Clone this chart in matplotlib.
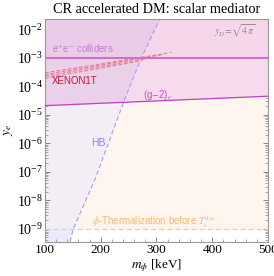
import numpy as np
import matplotlib
matplotlib.use("Agg")
import matplotlib.pyplot as plt
from matplotlib.ticker import MultipleLocator, LogLocator, NullFormatter
from matplotlib.patches import Polygon

plt.rcParams["font.family"] = ["Liberation Serif", "DejaVu Serif"]
plt.rcParams["mathtext.fontset"] = "stix"

# --- donnees ---
m_min, m_max = 100, 500
y_min, y_max = 3.5e-10, 2.3e-2

# bord HB (ligne pointillee bleue)
hb_m = [145, 151, 190, 243, 273, 306]
hb_y = [3.5e-10, 1e-9, 5.6e-8, 3.5e-5, 1e-3, 2.3e-2]

# (g-2)_e
g2_m = [100, 500]
g2_y = [2.1e-5, 4.5e-5]

# collisionneurs e+e-
ee_y = 1e-3

# thermalisation phi
th_y = 1e-9

# XENON1T (lignes pointillees rouges)
xe_m0 = [100, 100, 100, 100]
xe_y0 = [3.0e-4, 2.6e-4, 2.25e-4, 1.9e-4]
xe_m1 = [327, 312, 295, 275]
xe_y1 = [1.55e-3, 1.3e-3, 1.05e-3, 8.0e-4]

fig = plt.figure(figsize=(2.74, 2.76), dpi=100)
ax = fig.add_axes([0.164, 0.124, 0.814, 0.807])
ax.set_xlim(m_min, m_max)
ax.set_yscale("log")
ax.set_ylim(y_min, y_max)

# fond orange (thermalisation)
ax.axhspan(th_y, y_max, color="#fdf5ee", lw=0, zorder=0)

# region HB
hb_poly = Polygon([(m_min, y_min)] + list(zip(hb_m, hb_y)) + [(m_min, y_max)],
                  closed=True, facecolor="#f3eef6", edgecolor="none", zorder=1)
ax.add_patch(hb_poly)
low = ax.axhspan(y_min, th_y, color="#ebebfb", lw=0, zorder=1.1)
low.set_clip_path(hb_poly)

# region (g-2)_e
ax.fill_between(g2_m, g2_y, y_max, color="#f6dbed", lw=0, zorder=2)
ov = ax.fill_between(g2_m, g2_y, y_max, color="#ebd0ea", lw=0, zorder=2.1)
ov.set_clip_path(hb_poly)
ax.axhspan(ee_y, y_max, color="#e070c0", alpha=0.04, lw=0, zorder=2.2)

# lignes
ax.plot(hb_m, hb_y, color="#a0a0ea", lw=0.8, dashes=(4, 2.5), zorder=4)
ax.plot(g2_m, g2_y, color="#c040c8", lw=0.9, zorder=4)
ax.axhline(ee_y, color="#d070c8", lw=1.5, zorder=4)
ax.axhline(th_y, color="#f8c898", lw=0.9, dashes=(4, 2.5), zorder=4)

# XENON1T
ax.fill([xe_m0[0], xe_m1[0], xe_m1[-1], xe_m0[-1]],
        [xe_y0[0], xe_y1[0], xe_y1[-1], xe_y0[-1]],
        color="#e06070", alpha=0.10, lw=0, zorder=3)
for a, b, c, d in zip(xe_m0, xe_y0, xe_m1, xe_y1):
    ax.plot([a, c], [b, d], color="#d84858", lw=0.55, dashes=(5, 2.5), alpha=0.7, zorder=3.5)

# textes
sans = ["Liberation Sans", "DejaVu Sans"]
ax.text(113, 2.1e-3, r"e$^{+}$e$^{-}$ colliders", color="#c878d8", fontsize=7,
        family=sans, va="center", zorder=5)
ax.text(113, 1.5e-4, "XENON1T", color="#c8102e", fontsize=7, family=sans,
        va="center", zorder=5)
ax.text(276, 4.9e-5, r"(g$-$2)$_e$", color="#d050c8", fontsize=7, family=sans,
        va="center", zorder=5)
ax.text(183, 1e-6, "HB", color="#8888f0", fontsize=7.5, family=sans,
        va="center", zorder=5)
ax.text(478, 9.2e-3, r"$y_D\!=\!\sqrt{4\,\pi}$", color="#909090", fontsize=7,
        ha="right", va="center", zorder=5)
ax.text(184, 1.8e-9, r"$\phi$-Thermalization before $T_\nu^{\rm dec}$",
        color="#f8b878", fontsize=7, family=sans, va="center", zorder=5)

# axes et graduations
ax.set_title("CR accelerated DM: scalar mediator", fontsize=10.3, pad=4)
ax.set_xlabel(r"$m_\phi$ [keV]", fontsize=9.5, labelpad=1)
ax.set_ylabel(r"$y_e$", fontsize=9.5, labelpad=1)
ax.xaxis.set_major_locator(MultipleLocator(100))
ax.xaxis.set_minor_locator(MultipleLocator(20))
ax.yaxis.set_major_locator(LogLocator(base=10, numticks=20))
ax.yaxis.set_minor_locator(LogLocator(base=10, subs=np.arange(2, 10), numticks=20))
ax.yaxis.set_minor_formatter(NullFormatter())
ax.tick_params(which="both", direction="in", top=True, right=True,
               color="#888888", pad=1.5)
ax.tick_params(axis="x", labelsize=9.5)
ax.tick_params(axis="y", labelsize=10)
ax.tick_params(which="major", length=3.5, width=0.7)
ax.tick_params(which="minor", length=2, width=0.5)
for s in ax.spines.values():
    s.set_color("#999999")
    s.set_linewidth(0.8)

fig.savefig("out.png", dpi=100)
